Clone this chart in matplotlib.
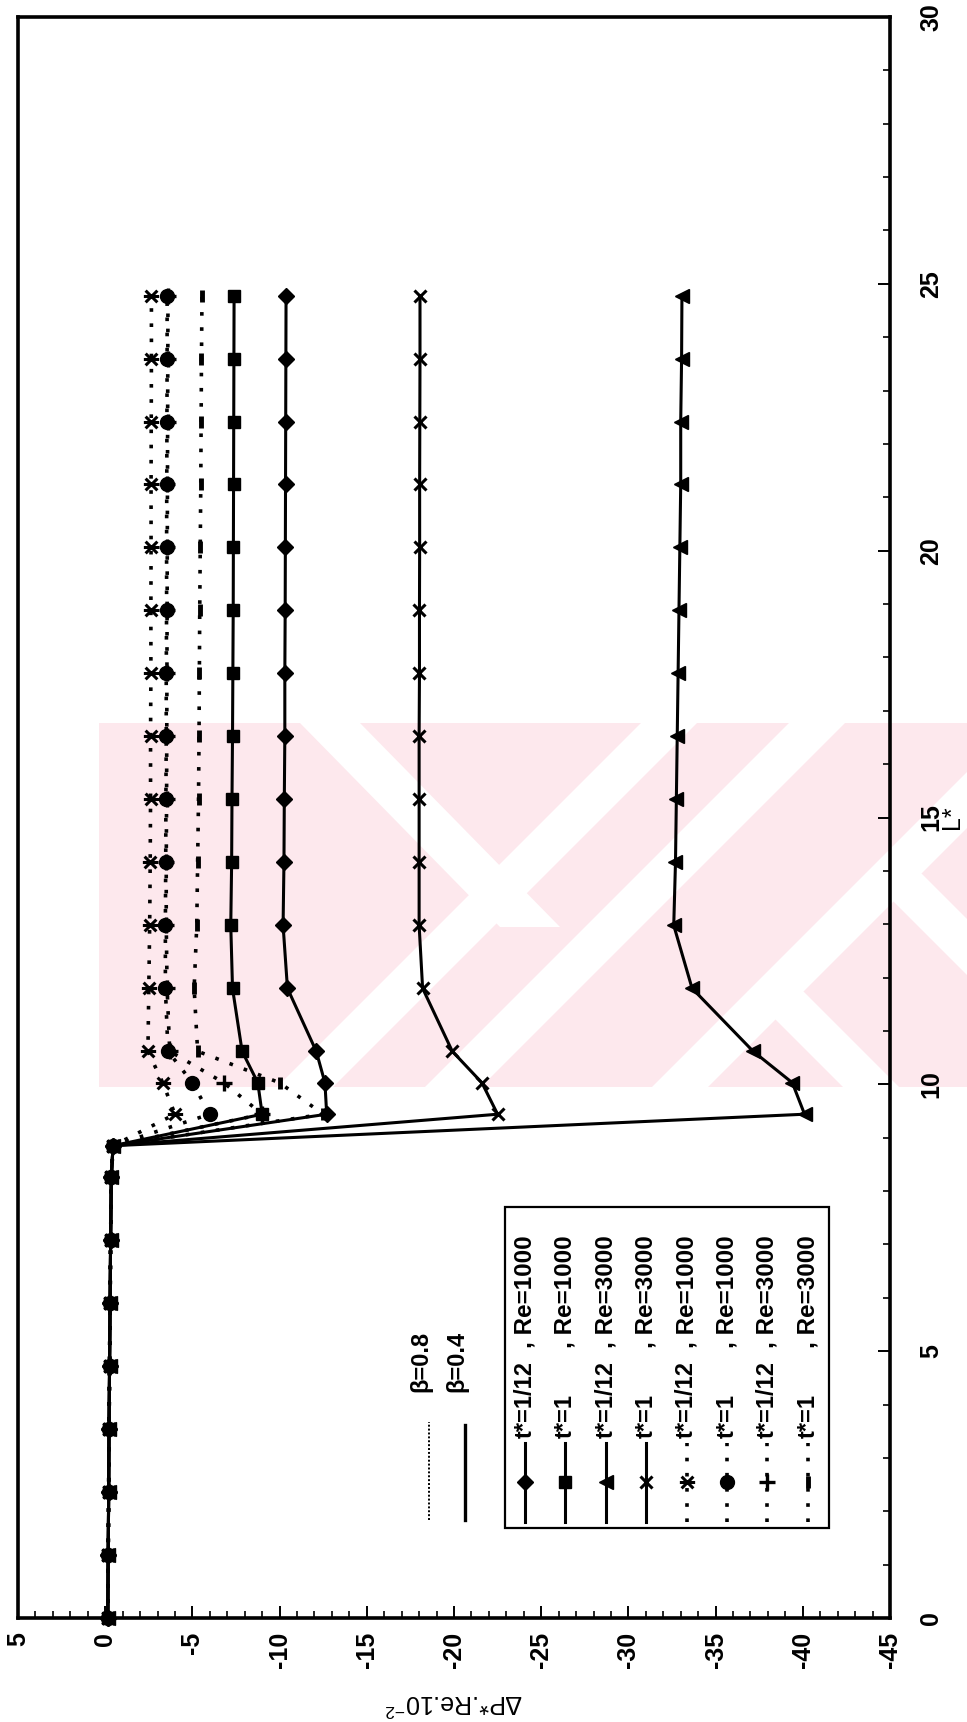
import numpy as np
import matplotlib
matplotlib.use("Agg")
import matplotlib.pyplot as plt
from matplotlib.path import Path
from matplotlib.patches import Rectangle, Polygon
from matplotlib.ticker import MultipleLocator

plt.rcParams['font.family'] = ['Liberation Sans', 'DejaVu Sans']
plt.rcParams['font.weight'] = 'bold'
plt.rcParams['mathtext.default'] = 'regular'
plt.rcParams['axes.unicode_minus'] = False

# stations along the duct (L*), same for every curve
L_star = [0.0, 1.18, 2.36, 3.54, 4.72, 5.90, 7.08, 8.26, 8.85, 9.44, 10.03, 10.62,
          11.80, 12.98, 14.16, 15.34, 16.52, 17.70, 18.88, 20.06, 21.24, 22.42, 23.60, 24.78]

# entry part (L* <= 8.85) is shared by all the curves
entry = [-0.15, -0.17, -0.20, -0.22, -0.25, -0.28, -0.31, -0.35, -0.45]

# beta = 0.4 (solid lines)
b04_t112_re1000 = entry + [-12.7, -12.6, -12.1, -10.45, -10.2, -10.25, -10.27, -10.3, -10.3,
                           -10.32, -10.33, -10.34, -10.35, -10.36, -10.37]
b04_t1_re1000 = entry + [-9.0, -8.75, -7.85, -7.3, -7.2, -7.25, -7.27, -7.3, -7.32,
                         -7.34, -7.35, -7.36, -7.37, -7.38, -7.39]
b04_t112_re3000 = entry + [-40.1, -39.4, -37.15, -33.65, -32.6, -32.7, -32.75, -32.8, -32.85,
                           -32.9, -32.95, -33.0, -33.0, -33.05, -33.07]
b04_t1_re3000 = entry + [-22.5, -21.6, -19.9, -18.2, -18.0, -18.0, -18.0, -18.0, -18.02,
                         -18.02, -18.03, -18.03, -18.04, -18.05, -18.05]

# beta = 0.8 (dotted lines)
b08_t112_re1000 = entry + [-4.0, -3.3, -2.45, -2.5, -2.55, -2.58, -2.6, -2.6, -2.62,
                           -2.62, -2.63, -2.63, -2.64, -2.65, -2.65]
b08_t1_re1000 = entry + [-6.0, -5.0, -3.6, -3.45, -3.45, -3.47, -3.48, -3.5, -3.5,
                         -3.52, -3.52, -3.53, -3.54, -3.55, -3.55]
b08_t112_re3000 = entry + [-9.0, -6.8, -3.7, -3.55, -3.5, -3.5, -3.52, -3.53, -3.54,
                           -3.55, -3.56, -3.57, -3.58, -3.59, -3.6]
b08_t1_re3000 = entry + [-12.5, -10.0, -5.3, -5.1, -5.25, -5.3, -5.35, -5.38, -5.4,
                         -5.42, -5.45, -5.48, -5.5, -5.52, -5.55]

t_labels = ['t*=1/12', 't*=1', 't*=1/12', 't*=1', 't*=1/12', 't*=1', 't*=1/12', 't*=1']
re_labels = [', Re=1000', ', Re=1000', ', Re=3000', ', Re=3000',
             ', Re=1000', ', Re=1000', ', Re=3000', ', Re=3000']

# asterisk marker (x with a bar), drawn turned like the rest of the figure
star = Path([(-1, -1), (1, 1), (-1, 1), (1, -1), (-1.3, 0), (1.3, 0)],
            [Path.MOVETO, Path.LINETO] * 3)

dots = (0, (1.0, 3.2))
series = [
    (b04_t112_re1000, dict(ls='-', marker='D', ms=8)),
    (b04_t1_re1000, dict(ls='-', marker='s', ms=9)),
    (b04_t112_re3000, dict(ls='-', marker='<', ms=10)),
    (b04_t1_re3000, dict(ls='-', marker='x', ms=9, mew=2.2)),
    (b08_t112_re1000, dict(ls=dots, marker=star, ms=11, mew=2.2)),
    (b08_t1_re1000, dict(ls=dots, marker='o', ms=10)),
    (b08_t112_re3000, dict(ls=dots, marker='+', ms=11, mew=2.4)),
    (b08_t1_re3000, dict(ls=dots, marker='|', ms=9, mew=3.5)),
]

W, H = 967, 1722
fig = plt.figure(figsize=(W / 100, H / 100), dpi=100)

# pink watermark in the background (pixel coordinates)
bg = fig.add_axes([0, 0, 1, 1], zorder=0)
bg.set_xlim(0, W)
bg.set_ylim(H, 0)
bg.axis('off')
pink = '#fde8ed'
y0, y1 = 723, 1087
bg.add_patch(Rectangle((99, y0), W - 99, y1 - y0, color=pink, lw=0))
# white "/" bands: x + y = c
for c in [1392, 1540, 1767]:
    a, b = c - 28, c + 28
    bg.add_patch(Polygon([(a - y0, y0), (b - y0, y0), (b - y1, y1), (a - y1, y1)],
                         closed=True, color='white', lw=0))
# white "\" bands starting on the x + y = 1767 line: x - y = d
for d in [-216, 20]:
    a, b = d - 28, d + 28
    ys = (1767 - d) / 2
    bg.add_patch(Polygon([(a + ys, ys), (b + ys, ys), (b + y1, y1), (a + y1, y1)],
                         closed=True, color='white', lw=0))
# white "\" band on the left part
bg.add_patch(Polygon([(300, y0), (360, y0), (560, y1 - 160), (500, y1 - 160)],
                     closed=True, color='white', lw=0))
bg.set_xlim(0, W)
bg.set_ylim(H, 0)

ax = fig.add_axes([18 / W, 1 - 1618 / H, 872 / W, 1601 / H], zorder=1)
ax.patch.set_alpha(0)

for vals, st in series:
    lw = 2.2 if st['ls'] == '-' else 2.6
    ax.plot(vals, L_star, color='black', lw=lw, mfc='black', mec='black',
            clip_on=False, **st)

ax.set_xlim(5, -45)
ax.set_ylim(0, 30)
ax.xaxis.set_major_locator(MultipleLocator(5))
ax.xaxis.set_minor_locator(MultipleLocator(1))
ax.yaxis.set_major_locator(MultipleLocator(5))
ax.yaxis.set_minor_locator(MultipleLocator(1))
ax.yaxis.tick_right()
ax.tick_params(which='both', direction='in', top=False, left=False, right=True, bottom=True)
ax.tick_params(which='major', length=9, width=1.4)
ax.tick_params(which='minor', length=5, width=1.2)
ax.tick_params(axis='x', labelsize=18, pad=10, labelrotation=90)
ax.tick_params(axis='y', labelsize=18, pad=21, labelrotation=90)
for lab in ax.get_yticklabels():
    lab.set_verticalalignment('center')
for sp in ax.spines.values():
    sp.set_linewidth(2.6)

ax.set_xlabel('ΔP*.Re.10$^{-2}$', fontsize=18, rotation=180, va='center', ha='center')
ax.xaxis.set_label_coords(0.5, -0.0525)
ax.set_ylabel('L*', fontsize=18, rotation=90, va='center', ha='center')
ax.yaxis.set_label_coords(1.071, 0.5)

# legends on a pixel overlay
ov = fig.add_axes([0, 0, 1, 1], zorder=2)
ov.set_xlim(0, W)
ov.set_ylim(H, 0)
ov.axis('off')

ov.add_patch(Rectangle((505, 1207), 324, 321, fc='white', ec='black', lw=1.6))
for i, (vals, st) in enumerate(series):
    x = 525 + i * 40.4
    lw = 2.2 if st['ls'] == '-' else 2.6
    ov.plot([x, x], [1522, 1443], color='black', lw=lw, ls=st['ls'])
    ov.plot([x], [1482], color='black', ls='none', marker=st['marker'], ms=st['ms'],
            mew=st.get('mew', 1.0), mfc='black', mec='black')
    ov.text(x, 1438, t_labels[i], rotation=90, ha='center', va='bottom', fontsize=17)
    ov.text(x, 1348, re_labels[i], rotation=90, ha='center', va='bottom', fontsize=17.5)

ov.plot([429, 429], [1520, 1422], color='black', lw=1.4, ls=(0, (1, 1)))
ov.plot([465, 465], [1520, 1425], color='black', lw=2.4)
ov.text(421, 1392, 'β=0.8', rotation=90, ha='center', va='bottom', fontsize=17)
ov.text(457, 1392, 'β=0.4', rotation=90, ha='center', va='bottom', fontsize=17)

fig.savefig('out.png', dpi=100)
